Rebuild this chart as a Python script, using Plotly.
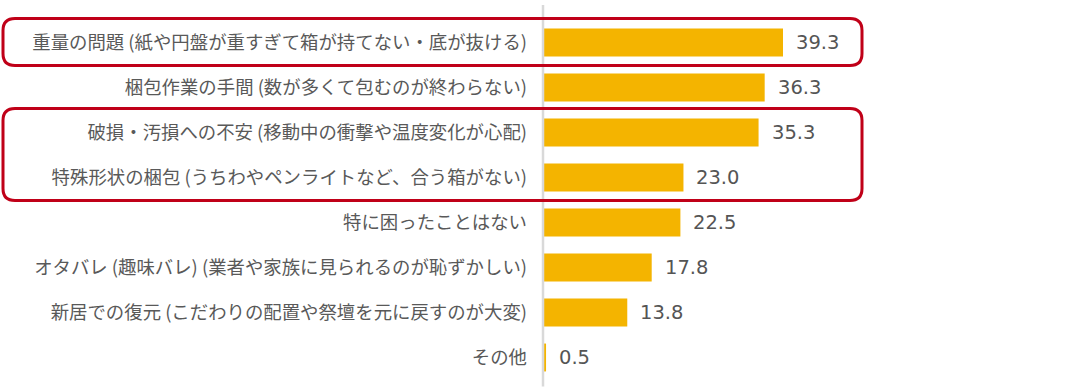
import plotly.graph_objects as go

categories = [
    "重量の問題 (紙や円盤が重すぎて箱が持てない・底が抜ける)",
    "梱包作業の手間 (数が多くて包むのが終わらない)",
    "破損・汚損への不安 (移動中の衝撃や温度変化が心配)",
    "特殊形状の梱包 (うちわやペンライトなど、合う箱がない)",
    "特に困ったことはない",
    "オタバレ (趣味バレ) (業者や家族に見られるのが恥ずかしい)",
    "新居での復元 (こだわりの配置や祭壇を元に戻すのが大変)",
    "その他",
]
values = [39.3, 36.3, 35.3, 23.0, 22.5, 17.8, 13.8, 0.5]
highlight_groups = [(0, 0), (2, 3)]

W, H = 1088, 390
ML, MR, MT, MB = 543, 45, 20, 10
PW, PH = W - ML - MR, H - MT - MB
PX_PER_UNIT = 240 / 39.3
XMAX = PW / PX_PER_UNIT
n = len(categories)
ROW = PH / n

FONT = "Noto Sans CJK JP, Noto Sans, sans-serif"

fig = go.Figure(go.Bar(
    x=values, y=categories, orientation="h",
    marker=dict(color="#F4B400", line=dict(width=0)),
    width=0.62, hoverinfo="skip",
))

for c, v in zip(categories, values):
    fig.add_annotation(x=v, y=c, text=f"{v:.1f}", showarrow=False,
                       xanchor="left", xshift=11,
                       font=dict(family="DejaVu Sans, sans-serif", size=19.5, color="#555555"))

def px2paper(px, py):
    return (px - ML) / PW, (H - MB - py) / PH

shapes = []
# axis line
shapes.append(dict(type="line", xref="paper", yref="paper",
                   x0=0, x1=0, y0=-MB / PH + 0.01, y1=1 + (MT - 5) / PH,
                   line=dict(color="#D9D9D9", width=2.5), layer="above"))

r = 12
for a, b in highlight_groups:
    top = MT + a * ROW + ROW / 2 - 24
    bot = MT + b * ROW + ROW / 2 + 23
    left, right = 3, 862
    def P(x, y):
        xx, yy = px2paper(x, y)
        return f"{xx:.5f},{yy:.5f}"
    path = (f"M {P(left + r, top)} L {P(right - r, top)} Q {P(right, top)} {P(right, top + r)} "
            f"L {P(right, bot - r)} Q {P(right, bot)} {P(right - r, bot)} "
            f"L {P(left + r, bot)} Q {P(left, bot)} {P(left, bot - r)} "
            f"L {P(left, top + r)} Q {P(left, top)} {P(left + r, top)} Z")
    shapes.append(dict(type="path", xref="paper", yref="paper", path=path,
                       line=dict(color="#C00018", width=3), layer="above"))

fig.update_layout(
    width=W, height=H,
    margin=dict(l=ML, r=MR, t=MT, b=MB),
    plot_bgcolor="white", paper_bgcolor="white",
    showlegend=False, bargap=0.38,
    shapes=shapes,
    xaxis=dict(range=[0, XMAX], visible=False, fixedrange=True),
    yaxis=dict(autorange="reversed", showline=False, showgrid=False,
               ticks="", ticklabelstandoff=15, automargin=False, fixedrange=True,
               tickfont=dict(family=FONT, size=18.4, color="#595959")),
)

fig.write_html("out.html", config={"displayModeBar": False},
               post_script="document.body.style.margin='0';document.body.style.padding='0';")
